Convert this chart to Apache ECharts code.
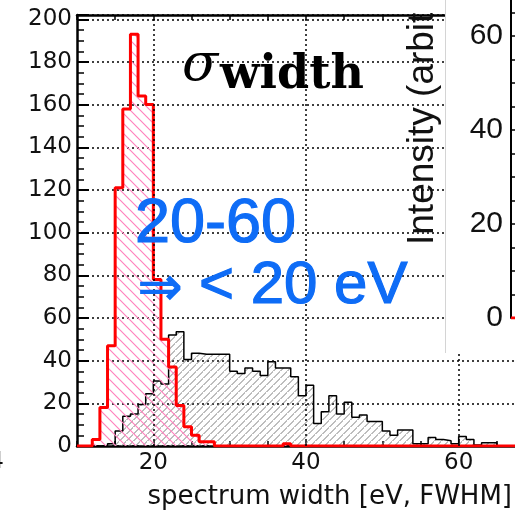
<!DOCTYPE html>
<html>
<head>
<meta charset="utf-8">
<script src="https://cdn.jsdelivr.net/npm/echarts@6/dist/echarts.min.js"></script>
<style>
html,body{margin:0;padding:0;background:#fff;}
#chart{width:515px;height:513px;}
</style>
</head>
<body>
<div id="chart"></div>
<script>
// ---- data ----
const binStart = 10;          // first bin lower edge [eV]
const binWidth = 1;           // bin width [eV]
// counts per bin, bins 10..69 eV
const redCounts = [
  0,0,3,18,47,121,158,193,164,160,
  78,50,37,19,9,5,2,2,0,0,
  0,0,0,0,0,0,0,1,0,0,
  0,0,0,0,0,0,0,0,0,0,
  0,0,0,0,0,0,0,0,0,0,
  0,0,0,0,0,0,0,0,0,0
];
const blackCounts = [
  0,0,0,0,1,7,14,15,19.5,24.5,
  30.5,29,52,53.5,40.5,43.5,43,43,43,43,
  35,34,36.5,35,33,39.5,36.5,36.5,32.5,23.5,
  28.5,10.5,16,23.5,15,20.5,13.5,14.5,11.5,11.5,
  7,5,7.5,7.5,1,1,4,3,2.5,1,
  4.5,3,0.5,1.5,1.5,0,0,0,0,0
];
const xTickLabels = [20, 40, 60];
const yTickLabels = [0, 20, 40, 60, 80, 100, 120, 140, 160, 180, 200];
const insetTickLabels = [0, 20, 40, 60];
const insetLine = [[0, 0], [10, 0]];

// ---- helpers ----
function histData(counts) {
  const d = counts.map((v, i) => [binStart + i * binWidth, v]);
  d.push([binStart + counts.length * binWidth, counts[counts.length - 1]]);
  return d;
}
function hatch(color, s, dir, lw) {
  const c = document.createElement('canvas');
  c.width = s; c.height = s;
  const g = c.getContext('2d');
  g.strokeStyle = color; g.lineWidth = lw;
  g.beginPath();
  if (dir === '/') {
    g.moveTo(-s, s); g.lineTo(s, -s);
    g.moveTo(0, s); g.lineTo(s, 0);
    g.moveTo(0, 2 * s); g.lineTo(2 * s, 0);
  } else {
    g.moveTo(-s, 0); g.lineTo(s, 2 * s);
    g.moveTo(0, 0); g.lineTo(s, s);
    g.moveTo(0, -s); g.lineTo(2 * s, s);
  }
  g.stroke();
  return c;
}
const grayHatch = hatch('#7c7c7c', 7.5, '/', 1);
const pinkHatch = hatch('#ff82bd', 10, '\\', 1.2);

const axFont = '"DejaVu Sans"';
const dotted = [2, 3];
const blue = '#0e6cf6';

const chart = echarts.init(document.getElementById('chart'), null, {renderer: 'canvas'});
chart.setOption({
  animation: false,
  backgroundColor: '#fff',
  grid: [
    {left: 77, top: 15, width: 458, height: 431, containLabel: false, outerBoundsMode: 'none', show: false},
    {left: 511, top: -58, width: 100, height: 376, containLabel: false, outerBoundsMode: 'none', show: false}
  ],
  xAxis: [
    {
      type: 'value', gridIndex: 0, position: 'bottom', min: 10, max: 70, interval: 5,
      axisLine: {show: true, onZero: false, lineStyle: {color: '#000', width: 2.5}},
      axisTick: {show: true, inside: true, length: 5, lineStyle: {color: '#000', width: 1.5}},
      axisLabel: {
        show: true, margin: 6, color: '#111', fontSize: 23, fontFamily: axFont,
        formatter: v => (xTickLabels.indexOf(v) >= 0 ? String(v) : '')
      },
      splitLine: {show: false}
    },
    {
      type: 'value', gridIndex: 0, position: 'top', min: 10, max: 70, interval: 5,
      axisLine: {show: true, onZero: false, lineStyle: {color: '#000', width: 2.5}},
      axisTick: {show: true, inside: true, length: 5, lineStyle: {color: '#000', width: 1.5}},
      axisLabel: {show: false},
      splitLine: {show: false}
    },
    {
      type: 'value', gridIndex: 1, min: 0, max: 10, show: false
    }
  ],
  yAxis: [
    {
      type: 'value', gridIndex: 0, position: 'left', min: 0, max: 202, interval: 20,
      axisLine: {show: true, onZero: false, lineStyle: {color: '#000', width: 2.5}},
      axisTick: {show: true, inside: true, length: 12, lineStyle: {color: '#000', width: 2}},
      axisLabel: {
        show: true, margin: 5, color: '#111', fontSize: 23, fontFamily: axFont,
        formatter: v => (yTickLabels.indexOf(v) >= 0 ? String(v) : '')
      },
      splitLine: {show: true, lineStyle: {color: '#000', width: 1.5, type: dotted}}
    },
    {
      type: 'value', gridIndex: 0, position: 'left', min: 0, max: 202, interval: 5,
      axisLine: {show: false},
      axisTick: {show: true, inside: true, length: 7, lineStyle: {color: '#000', width: 1.5}},
      axisLabel: {show: false},
      splitLine: {show: false}
    },
    {
      type: 'value', gridIndex: 1, position: 'left', min: 0, max: 80, interval: 20, z: 30,
      axisLine: {show: true, onZero: false, lineStyle: {color: '#000', width: 2}},
      axisTick: {show: true, inside: true, length: 8, lineStyle: {color: '#000', width: 1.5}},
      minorTick: {show: true, splitNumber: 4, length: 4, lineStyle: {color: '#000', width: 1.5}},
      axisLabel: {
        show: true, margin: 8, color: '#111', fontSize: 30, fontFamily: '"Liberation Sans"',
        formatter: v => (insetTickLabels.indexOf(v) >= 0 ? String(v) : '')
      },
      splitLine: {show: false}
    }
  ],
  series: [
    {
      type: 'line', xAxisIndex: 0, yAxisIndex: 0, step: 'end', symbol: 'none',
      data: histData(blackCounts), z: 3,
      lineStyle: {color: '#000', width: 1.5},
      areaStyle: {color: {image: grayHatch, repeat: 'repeat'}, opacity: 1},
      markLine: {
        silent: true, symbol: ['none', 'none'], label: {show: false},
        lineStyle: {color: '#000', width: 1.5, type: dotted},
        data: xTickLabels.map(v => ({xAxis: v}))
      }
    },
    {
      type: 'line', xAxisIndex: 0, yAxisIndex: 0, step: 'end', symbol: 'none',
      data: histData(redCounts), z: 4,
      lineStyle: {color: '#ff0000', width: 3},
      areaStyle: {color: {image: pinkHatch, repeat: 'repeat'}, opacity: 1}
    },
    {
      type: 'line', xAxisIndex: 2, yAxisIndex: 2, symbol: 'none', z: 31,
      data: insetLine, lineStyle: {color: '#ff0000', width: 3}
    }
  ],
  graphic: [
    {type: 'rect', z: 20, shape: {x: 445, y: 0, width: 70, height: 353}, style: {fill: '#fff'}},
    {type: 'line', z: 21, shape: {x1: 445.5, y1: 0, x2: 445.5, y2: 353}, style: {stroke: '#d4d4d4', lineWidth: 1}},
    {type: 'text', z: 40, x: 182, y: 66,
      style: {text: 'σ', font: 'italic 53px "DejaVu Serif"', fill: '#000', textAlign: 'left', textVerticalAlign: 'middle', align: 'left', verticalAlign: 'middle'}},
    {type: 'text', z: 40, x: 220, y: 76,
      style: {text: 'width', font: 'bold 46px "DejaVu Serif"', fill: '#000', textAlign: 'left', textVerticalAlign: 'middle', align: 'left', verticalAlign: 'middle'}},
    {type: 'text', z: 40, x: 135, y: 225,
      style: {text: '20-60', font: '63px "Liberation Sans"', fill: blue, stroke: blue, lineWidth: 1.2, textAlign: 'left', textVerticalAlign: 'middle', align: 'left', verticalAlign: 'middle'}},
    {type: 'text', z: 40, x: 137, y: 291,
      style: {text: '⇒', font: 'bold 55px "DejaVu Sans"', fill: blue, textAlign: 'left', textVerticalAlign: 'middle', align: 'left', verticalAlign: 'middle'}},
    {type: 'text', z: 40, x: 199, y: 286,
      style: {text: '< 20 eV', font: '60px "Liberation Sans"', fill: blue, stroke: blue, lineWidth: 1.2, textAlign: 'left', textVerticalAlign: 'middle', align: 'left', verticalAlign: 'middle'}},
    {type: 'text', z: 40, x: 423, y: 245, rotation: Math.PI / 2,
      style: {text: 'Intensity (arbit', font: '37px "Liberation Sans"', fill: '#111', textAlign: 'left', textVerticalAlign: 'middle', align: 'left', verticalAlign: 'middle'}},
    {type: 'text', z: 40, x: 512, y: 497,
      style: {text: 'spectrum width [eV, FWHM]', font: '26px "DejaVu Sans"', fill: '#111', textAlign: 'right', textVerticalAlign: 'middle', align: 'right', verticalAlign: 'middle'}},
    {type: 'text', z: 40, x: 4, y: 462,
      style: {text: '4', font: '23px "DejaVu Sans"', fill: '#111', textAlign: 'right', textVerticalAlign: 'middle', align: 'right', verticalAlign: 'middle'}}
  ]
});
</script>
</body>
</html>
